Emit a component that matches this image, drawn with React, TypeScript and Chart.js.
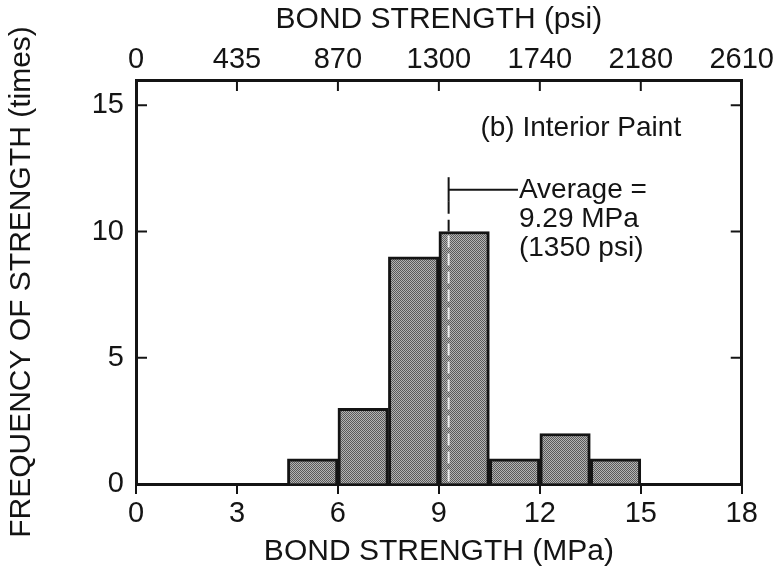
import React, { useEffect, useRef } from 'react';
import { Chart, registerables } from 'chart.js';

Chart.register(...registerables);

// ---- data ----
const binStarts = [4.5, 6, 7.5, 9, 10.5, 12, 13.5];
const binWidth = 1.5;
const counts = [1, 3, 9, 10, 1, 2, 1];
const mpaTickStep = 3;
const psiTickLabels = ['0', '435', '870', '1300', '1740', '2180', '2610'];
const freqTickStep = 5;
const averageMPa = 9.29;
const averageLines = ['Average =', '9.29 MPa', '(1350 psi)'];
const panelLabel = '(b) Interior Paint';
const xTitle = 'BOND STRENGTH (MPa)';
const x2Title = 'BOND STRENGTH (psi)';
const yTitle = 'FREQUENCY OF STRENGTH (times)';

const FONT = "'Liberation Sans', Arial, Helvetica, sans-serif";
const INK = '#141414';

function makePattern(): CanvasPattern | string {
  const pc = document.createElement('canvas');
  pc.width = 4;
  pc.height = 4;
  const c = pc.getContext('2d');
  if (!c) return '#8c8c8c';
  c.fillStyle = '#b4b4b4';
  c.fillRect(0, 0, 4, 4);
  c.fillStyle = '#5a5a5a';
  for (let i = 0; i < 4; i++) {
    for (let j = 0; j < 4; j++) {
      if ((i + j) % 2 === 0) c.fillRect(i, j, 1, 1);
    }
  }
  const p = c.createPattern(pc, 'repeat');
  return p || '#8c8c8c';
}

const decorPlugin = {
  id: 'decor',
  afterDatasetsDraw(chart: any) {
    const { ctx, chartArea, scales } = chart;
    const { x, y, x2 } = scales;
    ctx.save();
    ctx.strokeStyle = INK;
    ctx.lineWidth = 2;
    const seg = (a: number, b: number, c: number, d: number) => {
      ctx.beginPath();
      ctx.moveTo(a, b);
      ctx.lineTo(c, d);
      ctx.stroke();
    };
    // inward ticks on left / right
    y.ticks.forEach((t: any) => {
      if (t.value > y.min && t.value < y.max && t.value % freqTickStep === 0) {
        const py = y.getPixelForValue(t.value);
        seg(chartArea.left, py, chartArea.left + 11, py);
        seg(chartArea.right - 11, py, chartArea.right, py);
      }
    });
    // inward ticks on top
    x2.ticks.forEach((t: any) => {
      if (t.value > x2.min && t.value < x2.max) {
        const px = x2.getPixelForValue(t.value);
        seg(px, chartArea.top, px, chartArea.top + 11);
      }
    });

    // average marker
    const ax = x.getPixelForValue(averageMPa);
    const binIdx = binStarts.findIndex((s) => averageMPa >= s && averageMPa < s + binWidth);
    const barTopY = y.getPixelForValue(binIdx >= 0 ? counts[binIdx] : 0);
    const lineTopY = y.getPixelForValue(12.15);
    const armY = y.getPixelForValue(11.65);
    const armEndX = x.getPixelForValue(11.35);
    const baseY = y.getPixelForValue(0);

    ctx.lineWidth = 2;
    seg(ax, lineTopY, ax, armY + 12);
    ctx.setLineDash([12, 6]);
    seg(ax, armY + 12, ax, barTopY);
    ctx.strokeStyle = 'rgba(245,245,245,0.9)';
    seg(ax, barTopY + 4, ax, baseY - 2);
    ctx.setLineDash([]);
    ctx.strokeStyle = INK;
    seg(ax, armY, armEndX, armY);

    ctx.fillStyle = INK;
    ctx.font = `28px ${FONT}`;
    ctx.textAlign = 'left';
    ctx.textBaseline = 'middle';
    averageLines.forEach((line, i) => {
      ctx.fillText(line, armEndX + 1, armY + i * 29);
    });

    ctx.font = `28px ${FONT}`;
    ctx.textAlign = 'right';
    ctx.fillText(panelLabel, x.getPixelForValue(16.2), y.getPixelForValue(14.1));
    ctx.restore();
  },
};

export default function App() {
  const ref = useRef<HTMLCanvasElement | null>(null);

  useEffect(() => {
    if (!ref.current) return;
    const fill = makePattern();
    const barData = binStarts.map((s, i) => ({ x: s + binWidth / 2, y: counts[i] }));

    const chart = new Chart(ref.current, {
      type: 'bar',
      data: {
        datasets: [
          {
            data: barData as any,
            backgroundColor: fill as any,
            borderColor: INK,
            borderWidth: 3,
            barPercentage: 1,
            categoryPercentage: 1,
            xAxisID: 'x',
            yAxisID: 'y',
          },
        ],
      },
      options: {
        responsive: false,
        animation: false,
        layout: { padding: 0 },
        plugins: { legend: { display: false }, tooltip: { enabled: false } },
        scales: {
          x: {
            type: 'linear',
            position: 'bottom',
            min: 0,
            max: 18,
            offset: false,
            afterFit: (s: any) => { s.height = 92; },
            ticks: {
              stepSize: mpaTickStep,
              color: INK,
              font: { family: FONT, size: 29 },
              padding: 3,
              maxRotation: 0,
            },
            grid: { offset: false, drawOnChartArea: false, drawTicks: true, tickLength: 10, color: INK, lineWidth: 2 },
            border: { display: true, color: INK, width: 3 },
            title: {
              display: true,
              text: xTitle,
              color: INK,
              font: { family: FONT, size: 30 },
              padding: { top: 0, bottom: 6 },
            },
          },
          x2: {
            type: 'linear',
            position: 'top',
            min: 0,
            max: 18,
            offset: false,
            afterFit: (s: any) => { s.height = 80; },
            ticks: {
              stepSize: mpaTickStep,
              color: INK,
              font: { family: FONT, size: 29 },
              padding: 3,
              maxRotation: 0,
              callback: (_v: any, i: number) => psiTickLabels[i] ?? '',
            },
            grid: { offset: false, drawOnChartArea: false, drawTicks: false, color: INK },
            border: { display: true, color: INK, width: 3 },
            title: {
              display: true,
              text: x2Title,
              color: INK,
              font: { family: FONT, size: 30 },
              padding: { top: 2, bottom: 0 },
            },
          },
          y: {
            type: 'linear',
            position: 'left',
            min: 0,
            max: 16,
            afterFit: (s: any) => { s.width = 136; },
            ticks: {
              stepSize: freqTickStep,
              includeBounds: false,
              color: INK,
              font: { family: FONT, size: 29 },
              padding: 12,
            },
            grid: { drawOnChartArea: false, drawTicks: false, color: INK },
            border: { display: true, color: INK, width: 3 },
            title: {
              display: true,
              text: yTitle,
              color: INK,
              font: { family: FONT, size: 30 },
              padding: { top: 4, bottom: 0 },
            },
          },
          y2: {
            type: 'linear',
            position: 'right',
            min: 0,
            max: 16,
            afterFit: (s: any) => { s.width = 34; },
            ticks: { display: false, stepSize: freqTickStep },
            grid: { drawOnChartArea: false, drawTicks: false, color: INK },
            border: { display: true, color: INK, width: 3 },
          },
        },
      } as any,
      plugins: [decorPlugin],
    });

    return () => chart.destroy();
  }, []);

  return (
    <div style={{ position: 'fixed', left: 0, top: 0, width: 777, height: 576, background: '#fff' }}>
      <canvas ref={ref} width={777} height={576} />
    </div>
  );
}
